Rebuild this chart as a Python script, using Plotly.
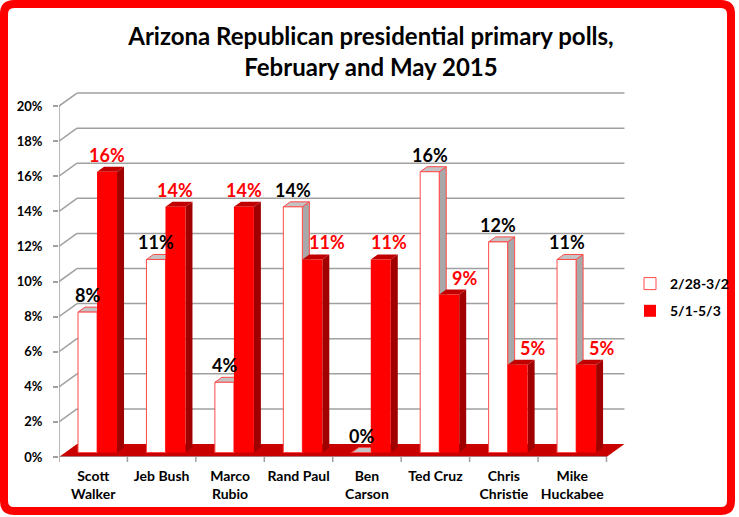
import plotly.graph_objects as go

# ---- data ----
categories = ["Scott<br>Walker", "Jeb Bush", "Marco<br>Rubio", "Rand Paul",
              "Ben<br>Carson", "Ted Cruz", "Chris<br>Christie", "Mike<br>Huckabee"]
series_names = ["2/28-3/2", "5/1-5/3"]
feb_values = [8, 11, 4, 14, 0, 16, 12, 11]
may_values = [16, 14, 14, 11, 11, 9, 5, 5]
y_ticks = [0, 2, 4, 6, 8, 10, 12, 14, 16, 18, 20]
y_tick_labels = [f"{v}%" for v in y_ticks]

# ---- layout geometry (pixels) ----
W, H = 739, 517
L, R, T, B = 59, 627, 92, 457
XMAX, YMAX = 8.3, 20.8
PX_X = (R - L) / XMAX       # px per category unit
PX_Y = (B - T) / YMAX       # px per percent

WALL_DX, WALL_DY = 18 / PX_X, 13 / PX_Y   # back wall depth
BAR_DX, BAR_DY = 7 / PX_X, 5 / PX_Y       # bar depth
BASE = 4.5 / PX_Y
W0, W1, R1 = 0.278, 0.556, 0.848          # bar edges within a category

FONT = "Lato, 'Open Sans', Arial, sans-serif"
GRID = "#a0a0a0"
RED = "#ff0000"
RED_TOP = "#c00000"
RED_SIDE = "#a00000"
WHITE_LINE = "#ff4a4a"

def xp(px):
    return (px - L) / (R - L)

def yp(py):
    return (B - py) / (B - T)

shapes = []

# back wall gridlines + side diagonals
for v in y_ticks[1:]:
    shapes.append(dict(type="line", xref="x", yref="y", layer="below",
                       x0=WALL_DX, x1=8 + WALL_DX, y0=v + WALL_DY, y1=v + WALL_DY,
                       line=dict(color=GRID, width=1.5)))
    shapes.append(dict(type="line", xref="x", yref="y", layer="below",
                       x0=0, x1=WALL_DX, y0=v, y1=v + WALL_DY,
                       line=dict(color=GRID, width=1.5)))

# floor
shapes.append(dict(type="path", xref="x", yref="y", layer="below",
                   path=f"M0,0 L8,0 L{8 + WALL_DX},{WALL_DY} L{WALL_DX},{WALL_DY} Z",
                   fillcolor="#c80000", line=dict(width=0)))
# axis lines
shapes.append(dict(type="line", xref="x", yref="y", layer="below",
                   x0=0, x1=8, y0=0, y1=0, line=dict(color=GRID, width=1.5)))
shapes.append(dict(type="line", xref="x", yref="y", layer="below",
                   x0=0, x1=0, y0=0, y1=20, line=dict(color=GRID, width=1.5)))
# category tick marks
for i in range(9):
    shapes.append(dict(type="line", xref="x", yref="paper", layer="below",
                       x0=i, x1=i, y0=0, y1=-5 / (B - T),
                       line=dict(color=GRID, width=1.5)))

def faces(x0, x1, v, top_col, side_col, line):
    top = BASE + v
    s = []
    s.append(dict(type="path", xref="x", yref="y", layer="below",
                  path=(f"M{x1},{BASE} L{x1},{top} L{x1 + BAR_DX},{top + BAR_DY} "
                        f"L{x1 + BAR_DX},{BASE + BAR_DY} Z"),
                  fillcolor=side_col, line=line))
    s.append(dict(type="path", xref="x", yref="y", layer="below",
                  path=(f"M{x0},{top} L{x1},{top} L{x1 + BAR_DX},{top + BAR_DY} "
                        f"L{x0 + BAR_DX},{top + BAR_DY} Z"),
                  fillcolor=top_col, line=line))
    return s

annotations = []
for i, (fv, mv) in enumerate(zip(feb_values, may_values)):
    shapes += faces(i + W0, i + W1, fv, "#c4c4c4", "#a8a8a8",
                    dict(color=WHITE_LINE, width=1))
    shapes += faces(i + W1, i + R1, mv, RED_TOP, RED_SIDE, dict(width=0))
    annotations.append(dict(x=i + (W0 + W1) / 2, y=BASE + fv + BAR_DY, xref="x", yref="y",
                            text=f"{fv}%", showarrow=False, yanchor="bottom", yshift=-1,
                            font=dict(family=FONT, size=18, color="black", weight="bold")))
    # red label nudged right when the white bar beside it is taller
    annotations.append(dict(x=i + (W1 + R1) / 2, y=BASE + mv + BAR_DY, xref="x", yref="y",
                            text=f"{mv}%", showarrow=False, yanchor="bottom", yshift=-1,
                            xshift=15 if fv > mv else (8 if fv == 0 else 0),
                            font=dict(family=FONT, size=18, color=RED, weight="bold")))

# red rounded border around the whole chart
bl, bt, br, bb, rad = 4, 4, 731, 511, 10
border_path = (f"M{xp(bl + rad)},{yp(bt)} L{xp(br - rad)},{yp(bt)} "
               f"Q{xp(br)},{yp(bt)} {xp(br)},{yp(bt + rad)} "
               f"L{xp(br)},{yp(bb - rad)} Q{xp(br)},{yp(bb)} {xp(br - rad)},{yp(bb)} "
               f"L{xp(bl + rad)},{yp(bb)} Q{xp(bl)},{yp(bb)} {xp(bl)},{yp(bb - rad)} "
               f"L{xp(bl)},{yp(bt + rad)} Q{xp(bl)},{yp(bt)} {xp(bl + rad)},{yp(bt)} Z")
shapes.append(dict(type="path", xref="paper", yref="paper", layer="above",
                   path=border_path, line=dict(color=RED, width=8)))

fig = go.Figure()
fig.add_trace(go.Bar(
    name=series_names[0], legendgroup="a",
    x=[i + (W0 + W1) / 2 for i in range(len(categories))],
    y=feb_values, base=BASE, width=W1 - W0,
    marker=dict(color="white", line=dict(color=WHITE_LINE, width=1))))
fig.add_trace(go.Bar(
    name=series_names[1], legendgroup="b",
    x=[i + (W1 + R1) / 2 for i in range(len(categories))],
    y=may_values, base=BASE, width=R1 - W1,
    marker=dict(color=RED, line=dict(width=0))))

fig.update_layout(
    width=W, height=H, autosize=False,
    margin=dict(l=L, r=W - R, t=T, b=H - B, pad=0),
    paper_bgcolor="white", plot_bgcolor="white",
    barmode="overlay",
    title=dict(text="Arizona Republican presidential primary polls,<br>February and May 2015",
               x=371 / W, xref="container", xanchor="center", y=1 - 45 / H, yanchor="top",
               font=dict(family=FONT, size=24, color="black", weight="bold")),
    xaxis=dict(range=[0, XMAX], showgrid=False, zeroline=False, showline=False,
               tickvals=[i + 0.5 for i in range(len(categories))], ticktext=categories,
               ticks="outside", ticklen=6, tickcolor="rgba(0,0,0,0)",
               tickfont=dict(family=FONT, size=14, color="black", weight="bold"),
               fixedrange=True, automargin=False),
    yaxis=dict(range=[0, YMAX], showgrid=False, zeroline=False, showline=False,
               tickvals=y_ticks, ticktext=y_tick_labels,
               ticks="outside", ticklen=5, tickcolor=GRID, tickwidth=1.5,
               ticklabelstandoff=8,
               tickfont=dict(family=FONT, size=13, color="black", weight="bold"),
               fixedrange=True, automargin=False),
    legend=dict(xref="container", yref="container", x=630 / W, y=1 - 268 / H,
                xanchor="left", yanchor="top", tracegroupgap=6, itemwidth=30,
                font=dict(family=FONT, size=14, color="black", weight="bold"),
                bgcolor="rgba(0,0,0,0)"),
    shapes=shapes, annotations=annotations,
    showlegend=True,
)

fig.write_html("out.html", config={"displayModeBar": False},
               post_script="document.body.style.margin='0';document.body.style.overflow='hidden';")
